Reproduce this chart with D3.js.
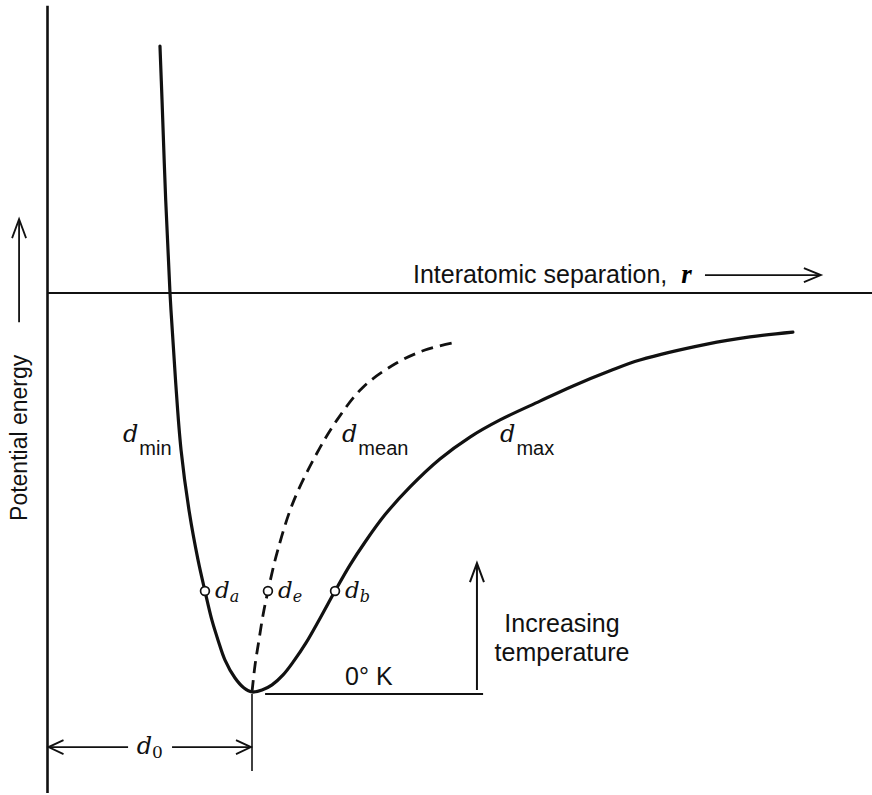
<!DOCTYPE html>
<html>
<head>
<meta charset="utf-8">
<script src="https://cdn.jsdelivr.net/npm/d3@7"></script>
<style>
  html, body { margin: 0; background: #fff; }
  svg { display: block; }
  .sans { font-family: "Liberation Sans", Arial, sans-serif; fill: #111; }
  .ital { font-family: "DejaVu Serif", "Liberation Serif", serif; font-style: italic; fill: #111; }
</style>
</head>
<body>
<svg id="chart" width="872" height="795"></svg>
<script>
// r in units of d0, E in units of the well depth (minimum = -1)
const solidCurve = [
  [0.550, 0.619], [0.560, 0.484], [0.578, 0.233], [0.599, 0.000],
  [0.626, -0.218], [0.653, -0.393], [0.694, -0.551], [0.736, -0.669],
  [0.770, -0.747], [0.804, -0.820], [0.834, -0.870], [0.868, -0.920],
  [0.917, -0.965], [0.961, -0.990], [1.000, -1.000], [1.049, -0.995],
  [1.098, -0.982], [1.152, -0.957], [1.205, -0.922], [1.264, -0.877],
  [1.333, -0.815], [1.406, -0.747], [1.479, -0.682], [1.553, -0.624],
  [1.650, -0.556], [1.773, -0.486], [1.919, -0.416], [2.066, -0.361],
  [2.213, -0.318], [2.408, -0.271], [2.570, -0.233], [2.751, -0.195],
  [2.897, -0.168], [3.225, -0.128], [3.435, -0.110], [3.645, -0.098]
];
const meanCurve = [
  [1.000, -1.000], [1.015, -0.932], [1.034, -0.870], [1.054, -0.807],
  [1.078, -0.747], [1.122, -0.652], [1.200, -0.526], [1.318, -0.401],
  [1.416, -0.318], [1.543, -0.236], [1.709, -0.175], [1.846, -0.143],
  [1.983, -0.125]
];
const levelE = -0.747;
const levelNames = ['a', 'e', 'b'];
const levelR = [0.770, 1.078, 1.406];
const curveNames = ['min', 'mean', 'max'];
const curveLabelR = [0.369, 1.440, 2.213];
const curveLabelE = -0.373;
const zeroKelvinE = -1.005;
const tempArrowR = 2.10;
const tempArrowTopE = -0.677;

const VIEW_E = [0.72, -1.253];
const VIEW_R_MAX = 4.03;

const svg = d3.select('#chart');
const x = d3.scaleLinear().domain([0, 1]).range([47.5, 252]);
const y = d3.scaleLinear().domain([0, -1]).range([293, 692]);

function line(g, x1, y1, x2, y2, w) {
  return g.append('line')
    .attr('x1', x1).attr('y1', y1).attr('x2', x2).attr('y2', y2)
    .attr('stroke', '#111').attr('stroke-width', w);
}

// open "V" arrowhead pointing in direction (dx, dy)
function chevron(g, tx, ty, dx, dy, len, half, w) {
  const px = -dy, py = dx;
  const bx = tx - dx * len, by = ty - dy * len;
  g.append('path')
    .attr('d', `M${bx + px * half},${by + py * half}L${tx},${ty}L${bx - px * half},${by - py * half}`)
    .attr('fill', 'none').attr('stroke', '#111').attr('stroke-width', w)
    .attr('stroke-linejoin', 'miter');
}

// axes
line(svg, x(0), y(VIEW_E[0]), x(0), y(VIEW_E[1]), 2.6);
line(svg, x(0), y(0), x(VIEW_R_MAX) + 5, y(0), 2.2);

// curves
const path = d3.line()
  .x(d => x(d[0])).y(d => y(d[1]))
  .curve(d3.curveCatmullRom.alpha(0.5));

svg.append('path').datum(solidCurve)
  .attr('d', path).attr('fill', 'none')
  .attr('stroke', '#111').attr('stroke-width', 3.2).attr('stroke-linecap', 'round');

svg.append('path').datum(meanCurve)
  .attr('d', path).attr('fill', 'none')
  .attr('stroke', '#111').attr('stroke-width', 2.8)
  .attr('stroke-dasharray', '12,7');

// level markers d_a, d_e, d_b
levelR.forEach((r, i) => {
  svg.append('circle')
    .attr('cx', x(r)).attr('cy', y(levelE)).attr('r', 4.4)
    .attr('fill', '#fff').attr('stroke', '#111').attr('stroke-width', 1.7);
  const t = svg.append('text').attr('class', 'ital')
    .attr('x', x(r) + 10).attr('y', y(levelE) + 7);
  t.append('tspan').attr('font-size', 23).text('d');
  t.append('tspan').attr('font-size', 16).attr('dy', 4).text(levelNames[i]);
});

// d_min, d_mean, d_max
curveNames.forEach((name, i) => {
  const t = svg.append('text').attr('x', x(curveLabelR[i])).attr('y', y(curveLabelE));
  t.append('tspan').attr('class', 'ital').attr('font-size', 24).text('d');
  t.append('tspan').attr('class', 'sans').attr('font-size', 20).attr('dx', 1).attr('dy', 13).text(name);
});

// tick below the minimum and d0 dimension
line(svg, x(1), y(-1) + 2, x(1), y(-1.198), 1.6);
const dimY = y(-1.138);
line(svg, x(0), dimY, x(0.394), dimY, 1.8);
line(svg, x(0.609), dimY, x(1), dimY, 1.8);
chevron(svg, x(0) + 1, dimY, -1, 0, 15, 7, 1.8);
chevron(svg, x(1) - 1, dimY, 1, 0, 15, 7, 1.8);
const d0 = svg.append('text').attr('class', 'ital')
  .attr('x', x(0.5)).attr('y', dimY + 7).attr('text-anchor', 'middle');
d0.append('tspan').attr('font-size', 24).text('d');
d0.append('tspan').attr('font-size', 17).attr('font-style', 'normal').attr('dy', 4).text('0');

// 0 K level and increasing temperature arrow
line(svg, x(1.064), y(zeroKelvinE), x(2.13), y(zeroKelvinE), 1.8);
svg.append('text').attr('class', 'sans').attr('font-size', 25)
  .attr('x', x(1.455)).attr('y', y(-0.982)).text('0° K');
line(svg, x(tempArrowR), y(-0.995), x(tempArrowR), y(tempArrowTopE) + 1, 2);
chevron(svg, x(tempArrowR), y(tempArrowTopE), 0, -1, 19, 7, 2);
svg.append('text').attr('class', 'sans').attr('font-size', 25)
  .attr('text-anchor', 'middle').attr('x', x(2.516))
  .selectAll('tspan').data(['Increasing', 'temperature']).join('tspan')
  .attr('x', x(2.516)).attr('y', (d, i) => y(i ? -0.922 : -0.85)).text(d => d);

// r axis label
const rl = svg.append('text').attr('x', x(1.787)).attr('y', y(0.025));
rl.append('tspan').attr('class', 'sans').attr('font-size', 25).text('Interatomic separation,');
rl.append('tspan').attr('font-family', '"Liberation Serif", serif').attr('font-style', 'italic')
  .attr('font-weight', 'bold').attr('font-size', 27).attr('dx', 14).text('r');
const ra = y(0.045);
line(svg, x(3.215), ra, x(3.777), ra, 1.8);
chevron(svg, x(3.777) + 1, ra, 1, 0, 17, 7, 1.8);

// energy axis label
const ex = x(-0.1), ey = y(-0.363);
svg.append('text').attr('class', 'sans').attr('font-size', 23)
  .attr('text-anchor', 'middle')
  .attr('transform', `translate(${ex},${ey}) rotate(-90)`)
  .text('Potential energy');
line(svg, x(-0.139), y(-0.073), x(-0.139), y(0.185) + 1, 1.8);
chevron(svg, x(-0.139), y(0.185), 0, -1, 19, 7, 1.8);
</script>
</body>
</html>
